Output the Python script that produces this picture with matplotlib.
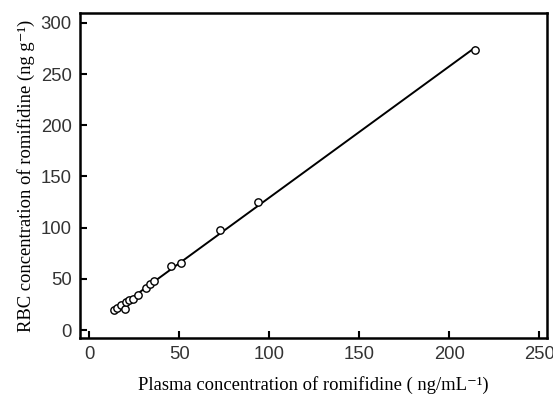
import numpy as np
import matplotlib
matplotlib.use("Agg")
import matplotlib.pyplot as plt

plasma = [13.5, 15.5, 17.5, 20.0, 20.5, 22.0, 24.0, 27.0, 31.5, 33.5, 36.0, 45.5, 51.0, 72.6, 93.6, 214.3]
rbc = [19.5, 22.0, 24.5, 21.0, 27.0, 29.0, 30.0, 34.0, 41.0, 45.0, 48.0, 63.0, 65.5, 97.7, 124.7, 273.4]
x_ticks = [0, 50, 100, 150, 200, 250]
y_ticks = [0, 50, 100, 150, 200, 250, 300]

fig = plt.figure(figsize=(5.53, 3.94), dpi=100)
ax = fig.add_axes([0.1447, 0.142, 0.8445, 0.825])

slope, intercept = np.polyfit(plasma, rbc, 1)
xl = np.array([min(plasma), max(plasma)])
ax.plot(xl, slope * xl + intercept, color='black', lw=1.4, zorder=2)
ax.scatter(plasma, rbc, s=28, facecolors='white', edgecolors='black', linewidths=1.0, zorder=3)

ax.set_xlim(-5.2, 254.3)
ax.set_ylim(-7.8, 309.6)
ax.set_xticks(x_ticks)
ax.set_yticks(y_ticks)
for s in ax.spines.values():
    s.set_linewidth(1.8)
ax.tick_params(direction='in', length=5, width=1.5, labelsize=13.3, pad=6)
for lbl in ax.get_xticklabels() + ax.get_yticklabels():
    lbl.set_family(['Liberation Sans', 'DejaVu Sans'])
    lbl.set_color('#333333')

serif = ['Liberation Serif', 'DejaVu Serif']
ax.set_xlabel('Plasma concentration of romifidine ( ng/mL⁻¹)', family=serif, fontsize=13.4, labelpad=9)
ax.set_ylabel('RBC concentration of romifidine (ng g⁻¹)', family=serif, fontsize=13.4, labelpad=4)

fig.savefig('out.png', dpi=100)
